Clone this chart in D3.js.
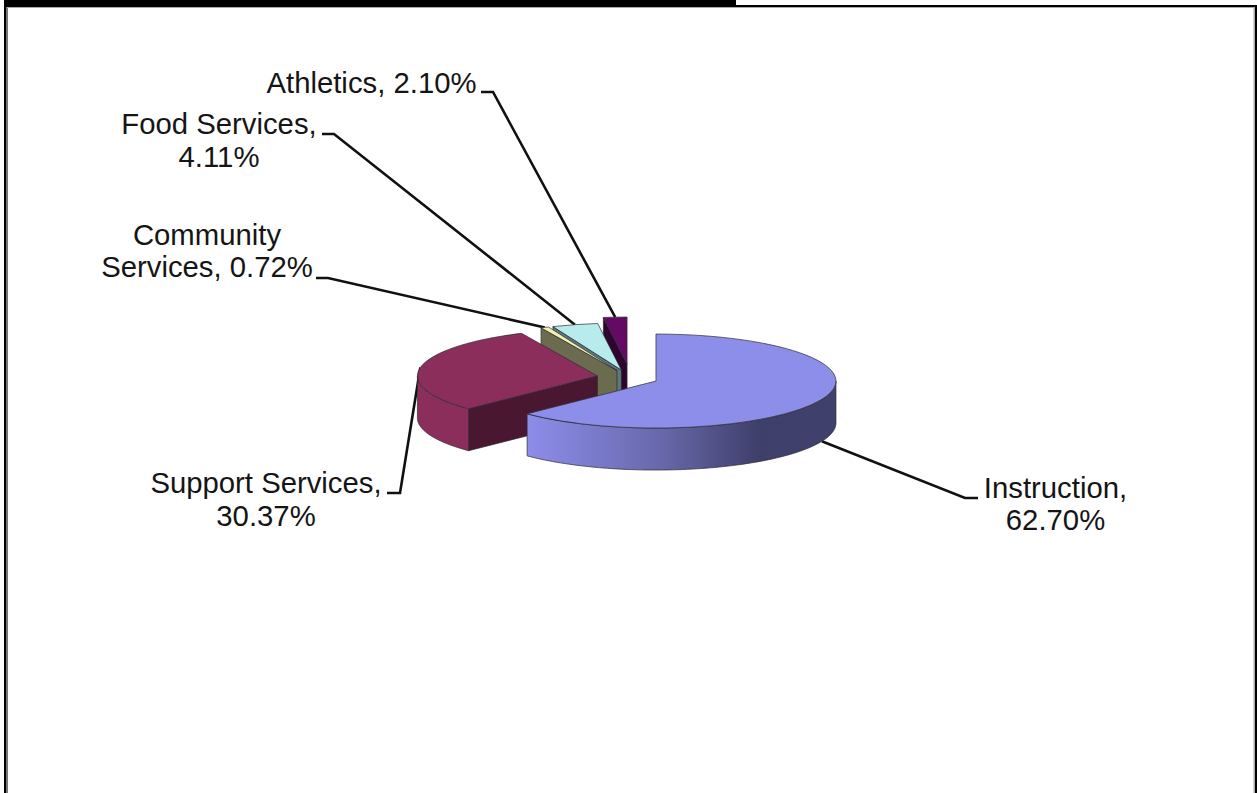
<!DOCTYPE html>
<html>
<head>
<meta charset="utf-8">
<script src="https://cdnjs.cloudflare.com/ajax/libs/d3/7.8.5/d3.min.js"></script>
<style>
html, body { margin: 0; padding: 0; background: #fff; overflow: hidden; }
svg { display: block; }
text { font-family: "Liberation Sans", Arial, sans-serif; font-size: 29.3px; fill: #151515; }
</style>
</head>
<body>
<svg id="chart" width="1257" height="793"></svg>
<script>
// Budget shares, in pie order (clockwise from twelve o'clock)
const categories = ["Instruction", "Support Services", "Community Services", "Food Services", "Athletics"];
const shares = [62.70, 30.37, 0.72, 4.11, 2.10];

// Label wording, one array of lines per category; the value is filled in by lineText
const labelLines = [
  ["{name},", "{value}"],
  ["{name},", "{value}"],
  ["Community", "Services, {value}"],
  ["{name},", "{value}"],
  ["{name}, {value}"]
];

// Slice colours
const topColors = ["#8d8dea", "#8c2e5b", "#f4efb0", "#b8ecec", "#640a64"];
const faceColors = ["#3f3f6b", "#4a1730", "#6b6b50", "#5c7878", "#2f0530"];

// Pie geometry
const W = 1257, H = 793;
const rx = 180, ry = 47, depth = 42;
const cx = 627.4, cy = 377.9;
const explode = 31;
// Per-slice correction for the perspective of the 3D view
const shift = [[0, 0], [0.5, -0.5], [2, 0], [2, 0], [1.7, -5.8]];

// Label placement: text centre, first baseline, leader elbow start and end
const labelLayout = [
  { x: 1055.5, y: 498, lh: 32, from: [978, 498], elbow: [965, 498] },
  { x: 266, y: 493, lh: 33, from: [387, 493], elbow: [400, 493] },
  { x: 207, y: 245, lh: 32, from: [316, 278], elbow: [328, 278] },
  { x: 219, y: 134, lh: 33, from: [322, 134], elbow: [334, 134] },
  { x: 371.5, y: 93, lh: 32, from: [481, 92], elbow: [493, 92] }
];

const svg = d3.select("#chart");
const pct = d3.format(".2f");
const slices = d3.pie().sort(null)(shares);
const deg = d3.scaleLinear().domain([0, 360]).range([0, 2 * Math.PI]);

// Frame of the surrounding panel
const frame = svg.append("g");
[[6, 7, 2, H - 7, "#777"], [7, 7, 1247, 1, "#aaa"], [1253.5, 7, 1.5, H - 7, "#aaa"],
 [4, 5, 2, H - 5, "#000"], [4, 5, 1253, 2, "#000"], [1255, 5, 2, H - 5, "#000"], [4, 0, 732, 5, "#000"]]
  .forEach(([x, y, w, h, c]) => frame.append("rect").attr("x", x).attr("y", y).attr("width", w).attr("height", h).attr("fill", c));

const defs = svg.append("defs");
const grad = defs.append("linearGradient").attr("id", "wallShade")
  .attr("gradientUnits", "userSpaceOnUse").attr("x1", 527).attr("x2", 836).attr("y1", 0).attr("y2", 0);
[[0, "#8d8dea"], [0.2, "#7c7cce"], [0.45, "#6666a8"], [0.75, "#3f3f6b"], [1, "#40406c"]]
  .forEach(([o, c]) => grad.append("stop").attr("offset", o).attr("stop-color", c));

// Apex of an exploded slice
function apexOf(d, i) {
  const mid = (d.startAngle + d.endAngle) / 2;
  return [
    cx + explode * Math.sin(mid) + shift[i][0],
    cy - explode * Math.cos(mid) * ry / rx + shift[i][1]
  ];
}
const rimPoint = (apex, a) => [apex[0] + rx * Math.sin(a), apex[1] - ry * Math.cos(a)];
const polyline = d3.line();
const edge = { stroke: "#2b2b33", "stroke-width": 0.7, "stroke-linejoin": "round" };
const styled = (sel) => { Object.entries(edge).forEach(([k, v]) => sel.attr(k, v)); return sel; };

// Leaders sit beneath the pie
const leaders = svg.append("g");
slices.forEach((d, i) => {
  const apex = apexOf(d, i);
  const mid = (d.startAngle + d.endAngle) / 2;
  const tip = rimPoint(apex, mid);
  if (Math.cos(mid) < 0) tip[1] += depth;
  leaders.append("path")
    .attr("d", polyline([labelLayout[i].from, labelLayout[i].elbow, tip]))
    .attr("fill", "none").attr("stroke", "#111").attr("stroke-width", 2.6);
});

// Slices, back to front
const pieGroup = svg.append("g");
const order = [4, 3, 2, 1, 0];
const wallColor = (i) => (i === 0 ? "url(#wallShade)" : topColors[i]);
const arc = d3.arc().innerRadius(0).outerRadius(rx);

order.forEach((i) => {
  const d = slices[i];
  const apex = apexOf(d, i);
  const g = pieGroup.append("g");

  // Cut face at the slice's leading edge, facing the viewer
  if (i !== 0) {
    const r = rimPoint(apex, d.startAngle);
    styled(g.append("path")
      .attr("d", polyline([apex, r, [r[0], r[1] + depth], [apex[0], apex[1] + depth]]) + "Z")
      .attr("fill", faceColors[i]));
  }

  // Outer wall: only the part of the rim on the near side of the ellipse
  const lo = Math.max(d.startAngle, deg(90));
  const hi = Math.min(d.endAngle, deg(270));
  if (lo < hi) {
    const steps = d3.range(0, 91).map((k) => lo + (hi - lo) * k / 90);
    const upper = steps.map((a) => rimPoint(apex, a));
    const lower = upper.slice().reverse().map((p) => [p[0], p[1] + depth]);
    styled(g.append("path").attr("d", polyline(upper.concat(lower)) + "Z").attr("fill", wallColor(i)));
  }

  // Top surface: a circular arc flattened into an ellipse
  styled(g.append("path")
    .attr("d", arc(d))
    .attr("transform", `translate(${apex[0]},${apex[1]}) scale(1,${ry / rx})`)
    .attr("vector-effect", "non-scaling-stroke")
    .attr("fill", topColors[i]));
});

// Category labels
const labels = svg.append("g").attr("text-anchor", "middle");
const lineText = (s, i) => s.replace("{name}", categories[i]).replace("{value}", pct(shares[i]) + "%");
labelLines.forEach((lines, i) => {
  const L = labelLayout[i];
  lines.forEach((s, k) => labels.append("text")
    .attr("x", L.x).attr("y", L.y + k * L.lh).text(lineText(s, i)));
});
</script>
</body>
</html>
